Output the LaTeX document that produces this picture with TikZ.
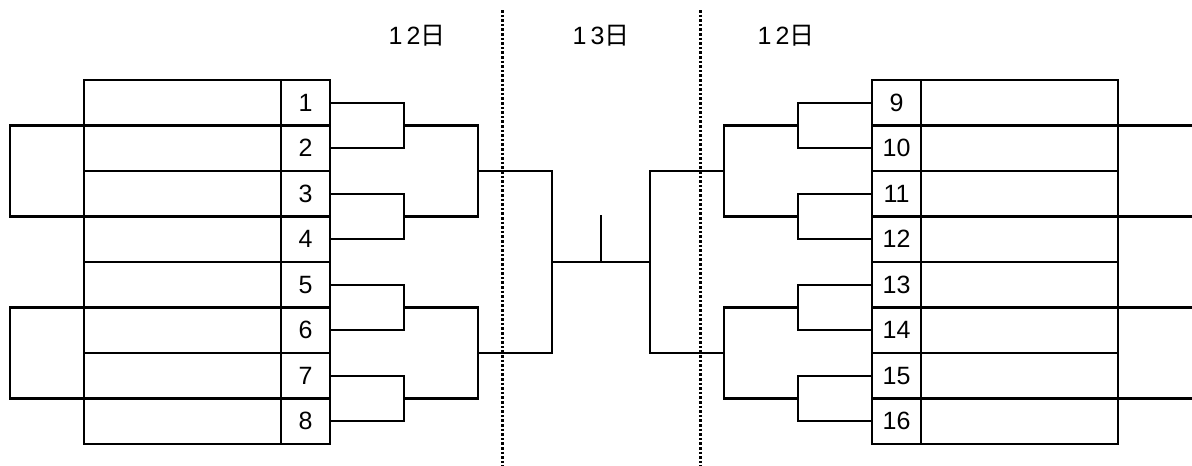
\documentclass[tikz,border=0pt]{standalone}
\usepackage{fontspec}
\setmainfont{Liberation Sans}
\newfontfamily\jp{Noto Sans CJK JP}
\usetikzlibrary{positioning}

\begin{document}
\begin{tikzpicture}[x=1pt,y=-1pt,line width=2.2pt,
  numcell/.style={draw,outer sep=0pt,inner sep=0pt,minimum width=49pt,minimum height=45.5pt,font=\fontsize{25}{25}\selectfont},
  namecell/.style={draw,outer sep=0pt,inner sep=0pt,minimum width=197pt,minimum height=45.5pt},
  dayline/.style={line width=3pt,dash pattern=on 2.6pt off 2pt},
  daylabel/.style={font=\fontsize{25}{25}\selectfont}]
\useasboundingbox (0,0) rectangle (1192,466);
% entry cells
\foreach \i in {1,...,8} {
  \node[numcell] (n\i) at (305.5,{80+(\i-0.5)*45.5}) {\i};
  \node[namecell,left=0pt of n\i] (p\i) {};
}
\foreach \i in {9,...,16} {
  \node[numcell] (n\i) at (896.5,{80+(\i-8.5)*45.5}) {\i};
  \node[namecell,right=0pt of n\i] (p\i) {};
}
% day columns
\coordinate (d1a) at (502,10);
\coordinate (d1b) at (502,466);
\coordinate (d2a) at (700,10);
\coordinate (d2b) at (700,466);
\draw[dayline] (d1a) -- (d1b);
\draw[dayline] (d2a) -- (d2b);
\node[daylabel] (day1) at (417,36) {1\,2{\jp 日}};
\node[daylabel] (day2) at (601,36) {1\,3{\jp 日}};
\node[daylabel] (day3) at (786,36) {1\,2{\jp 日}};
% junctions
\coordinate (qL1) at (404,125.5);
\coordinate (qL2) at (404,216.5);
\coordinate (qL3) at (404,307.5);
\coordinate (qL4) at (404,398.5);
\coordinate (sL1) at (478,171);
\coordinate (sL2) at (478,353);
\coordinate (fL) at (552,262);
\coordinate (qR1) at (798,125.5);
\coordinate (qR2) at (798,216.5);
\coordinate (qR3) at (798,307.5);
\coordinate (qR4) at (798,398.5);
\coordinate (sR1) at (724,171);
\coordinate (sR2) at (724,353);
\coordinate (fR) at (650,262);
\coordinate (top) at (601,215);
\coordinate (mid) at (601,262);
% left bracket
\draw (n1.east) -| (qL1) |- (n2.east);
\draw (n3.east) -| (qL2) |- (n4.east);
\draw (n5.east) -| (qL3) |- (n6.east);
\draw (n7.east) -| (qL4) |- (n8.east);
\draw (qL1) -| (sL1) |- (qL2);
\draw (qL3) -| (sL2) |- (qL4);
\draw (sL1) -| (fL) |- (sL2);
% right bracket
\draw (n9.west) -| (qR1) |- (n10.west);
\draw (n11.west) -| (qR2) |- (n12.west);
\draw (n13.west) -| (qR3) |- (n14.west);
\draw (n15.west) -| (qR4) |- (n16.west);
\draw (qR1) -| (sR1) |- (qR2);
\draw (qR3) -| (sR2) |- (qR4);
\draw (sR1) -| (fR) |- (sR2);
% final
\draw (fL) -- (fR);
\draw (mid) -- (top);
% outer loops
\draw (p1.south west) -- ++(-74,0) |- (p3.south west);
\draw (p5.south west) -- ++(-74,0) |- (p7.south west);
\draw (p9.south east) -- ++(75,0) |- (p11.south east);
\draw (p13.south east) -- ++(75,0) |- (p15.south east);
\end{tikzpicture}
\end{document}
